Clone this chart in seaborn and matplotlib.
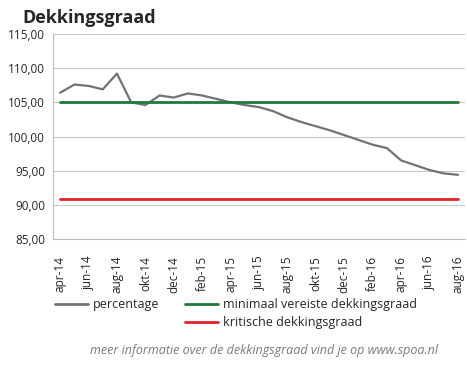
import matplotlib

matplotlib.use("Agg")

import pandas as pd
import seaborn as sns
from matplotlib import pyplot as plt
from matplotlib.lines import Line2D

months = [
    "apr-14", "mei-14", "jun-14", "jul-14", "aug-14", "sep-14", "okt-14",
    "nov-14", "dec-14", "jan-15", "feb-15", "mrt-15", "apr-15", "mei-15",
    "jun-15", "jul-15", "aug-15", "sep-15", "okt-15", "nov-15", "dec-15",
    "jan-16", "feb-16", "mrt-16", "apr-16", "mei-16", "jun-16", "jul-16",
    "aug-16",
]
percentage = [
    106.4, 107.6, 107.4, 106.9, 109.2, 105.0, 104.6,
    106.0, 105.7, 106.3, 106.0, 105.5, 105.0, 104.6,
    104.3, 103.7, 102.8, 102.1, 101.5, 100.9, 100.2,
    99.5, 98.8, 98.3, 96.5, 95.8, 95.1, 94.6,
    94.4,
]
minimaal_vereist = 105.0
kritisch = 90.9
y_ticks = [85, 90, 95, 100, 105, 110, 115]

GREY = "#727272"
GREEN = "#1f7a3a"
RED = "#e1222b"
FONT = ["Open Sans", "DejaVu Sans"]

df = pd.DataFrame(
    {
        "idx": range(len(months)),
        "maand": months,
        "percentage": percentage,
        "minimaal": [minimaal_vereist] * len(months),
        "kritisch": [kritisch] * len(months),
    },
)

sns.set_theme(style="white")
plt.rcParams["font.family"] = FONT

fig = plt.figure(figsize=(4.67, 3.73), dpi=100)
ax = fig.add_axes([0.1135, 0.359, 0.8825, 0.55])

sns.lineplot(data=df, x="idx", y="percentage", color=GREY, linewidth=1.6, ax=ax)
sns.lineplot(data=df, x="idx", y="minimaal", color=GREEN, linewidth=2.0, ax=ax)
sns.lineplot(data=df, x="idx", y="kritisch", color=RED, linewidth=2.0, ax=ax)

ax.set_xlim(-0.5, len(months) - 0.5)
ax.set_ylim(y_ticks[0], y_ticks[-1])
ax.set_yticks(y_ticks)
ax.set_yticklabels([f"{v:.2f}".replace(".", ",") for v in y_ticks], fontsize=8.5)
ax.grid(axis="y", color="#c8c8c8", linewidth=0.8)
ax.set_axisbelow(True)

# labels on every second month, tick marks on category boundaries
label_pos = list(range(0, len(months), 2))
ax.set_xticks(label_pos)
ax.set_xticklabels([months[i] for i in label_pos], rotation=90, fontsize=8.5)
ax.set_xticks([i - 0.5 for i in range(0, len(months) + 1, 2)], minor=True)
ax.tick_params(axis="x", which="major", length=0, pad=12)
ax.tick_params(axis="x", which="minor", length=7, direction="inout",
               color="#bdbdbd", width=0.8)
ax.tick_params(axis="y", length=3.6, color="#c8c8c8", width=0.8, pad=2)
ax.set_xlabel("")
ax.set_ylabel("")

for side in ["top", "right"]:
    ax.spines[side].set_visible(False)
ax.spines["left"].set_color("#bdbdbd")
ax.spines["bottom"].set_color("#bdbdbd")
ax.spines["left"].set_linewidth(0.8)
ax.spines["bottom"].set_linewidth(0.8)

fig.text(0.047, 0.975, "Dekkingsgraad", fontsize=13, fontweight="bold",
         va="top", ha="left")

handles = [
    Line2D([], [], color=GREY, linewidth=2),
    Line2D([], [], color="none"),
    Line2D([], [], color=GREEN, linewidth=2),
    Line2D([], [], color=RED, linewidth=2),
]
labels = ["percentage", "", "minimaal vereiste dekkingsgraad",
          "kritische dekkingsgraad"]
fig.legend(
    handles, labels, ncol=2, loc="upper left", bbox_to_anchor=(0.118, 0.2),
    frameon=False, fontsize=9, handlelength=2.64, handletextpad=0.4,
    columnspacing=2.0, labelspacing=0.4, borderaxespad=0, borderpad=0,
)

fig.text(0.565, 0.06, "meer informatie over de dekkingsgraad vind je op www.spoa.nl",
         fontsize=9, style="italic", color="#7a7a7a", ha="center", va="center")

fig.savefig("out.png", dpi=100)
